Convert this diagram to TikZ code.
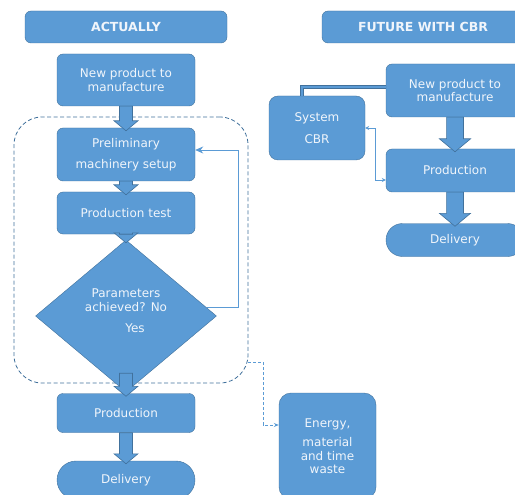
\documentclass[tikz,border=0pt]{standalone}
\usepackage{fontspec}
\setmainfont{DejaVu Sans}
\usepackage{tikz}
\usetikzlibrary{calc}
\usetikzlibrary{shapes.geometric}
\usetikzlibrary{shapes.misc}
\usetikzlibrary{arrows.meta}
\definecolor{boxblue}{HTML}{5B9BD5}
\definecolor{lineblue}{HTML}{41719C}
\definecolor{txtwhite}{HTML}{F0F5FB}

% thick block arrow between two anchors, #1 = size factor
\newcommand{\bigarrow}[3][1]{%
  \draw[blockarrow] let \p1=(#2), \p2=(#3) in
    ({\x1-6.5pt*#1},\y1) -- ({\x1-6.5pt*#1},{\y2-3pt+10pt*#1})
    -- ({\x1-12pt*#1},{\y2-3pt+10pt*#1}) -- (\x1,{\y2-3pt})
    -- ({\x1+12pt*#1},{\y2-3pt+10pt*#1}) -- ({\x1+6.5pt*#1},{\y2-3pt+10pt*#1})
    -- ({\x1+6.5pt*#1},\y1) -- cycle;}

\begin{document}
\begin{tikzpicture}[x=1pt,y=-1pt,
    box/.style={draw=lineblue,fill=boxblue,text=txtwhite,rounded corners=6pt,
      align=center,inner sep=0pt,font=\fontsize{12}{13.5}\selectfont},
    headbox/.style={box,font=\fontsize{12.5}{14}\selectfont\bfseries},
    endbox/.style={box,rounded corners=0pt,rounded rectangle},
    decision/.style={box,rounded corners=0pt,diamond},
    loopframe/.style={draw=lineblue,dash pattern=on 4pt off 2.5pt,line width=0.8pt,
      rounded corners=28pt},
    blockarrow/.style={draw=lineblue,fill=boxblue,line width=0.6pt},
    fbarrow/.style={draw=boxblue,line width=0.8pt,-{Stealth[length=8pt,width=7pt]}},
    linkbar/.style={draw=lineblue,double=boxblue,double distance=2pt,line width=0.6pt},
    cbrarrow/.style={draw=boxblue,line width=0.8pt,
      {Stealth[length=4pt,width=4pt]}-{Stealth[length=4pt,width=4pt]}},
    wasteline/.style={draw=boxblue,dash pattern=on 3pt off 2pt,line width=1pt,
      -{Stealth[length=5pt,width=4pt]}}]
  \useasboundingbox (0,0) rectangle (515,495);

  % actually
  \node[loopframe,minimum width=234,minimum height=266] (loop) at (131,250) {};
  \node[headbox,minimum width=202,minimum height=32] (headA) at (126,27) {ACTUALLY};
  \node[box,minimum width=138,minimum height=52] (newA) at (126,80) {New product to\\manufacture};
  \node[box,minimum width=138,minimum height=53] (prelim) at (126,154.5) {Preliminary\\[8pt]machinery setup};
  \node[box,minimum width=138,minimum height=42] (test) at (126,213) {Production test};
  \node[decision,minimum width=181,minimum height=152] (dia) at (126,316)
    {Parameters\\achieved? No\\[8pt]\hspace*{18pt}Yes\\[-3pt]\mbox{}};
  \node[box,minimum width=138,minimum height=39] (prodA) at (126,413) {Production};
  \node[endbox,minimum width=138,minimum height=38] (delivA) at (126,480) {Delivery};
  \node[box,rounded corners=12pt,minimum width=97,minimum height=106] (waste) at (327.5,446)
    {Energy,\\[6pt]material\\and time\\waste};

  \bigarrow{newA.south}{prelim.north}
  \bigarrow{prelim.south}{test.north}
  \bigarrow{test.south}{dia.north}
  \bigarrow{$(dia.south)+(0,-19)$}{prodA.north}
  \bigarrow{prodA.south}{delivA.north}

  \coordinate (fb) at (238,150);
  \draw[fbarrow] (dia.6) -| (fb) -- (fb -| prelim.east);

  \coordinate (wd) at (263,362);
  \coordinate (wa) at (263,425);
  \draw[wasteline] (loop.east |- wd) -- (wd) -- (wa) -- (wa -| waste.west);

  % future with cbr
  \node[headbox,minimum width=202,minimum height=32] (headB) at (423,27) {FUTURE WITH CBR};
  \node[box,minimum width=138,minimum height=53] (newB) at (455,90.5) {New product to\\manufacture};
  \node[box,rounded corners=9pt,minimum width=96,minimum height=64] (cbr) at (317,128) {System\\[8pt]CBR};
  \node[box,minimum width=138,minimum height=43] (prodB) at (455,170.5) {Production};
  \node[endbox,minimum width=138,minimum height=33] (delivB) at (455,240) {Delivery};

  \bigarrow[1.3]{newB.south}{prodB.north}
  \bigarrow[1.3]{prodB.south}{delivB.north}

  \coordinate (cb) at (302,87);
  \draw[linkbar] ($(newB.west)+(0,-3.5)$) -- (cb) -- (cb |- cbr.north);
  \coordinate (cx) at (375,180);
  \draw[cbrarrow] (cbr.east) -| (cx) -- (cx -| prodB.west);
\end{tikzpicture}
\end{document}
